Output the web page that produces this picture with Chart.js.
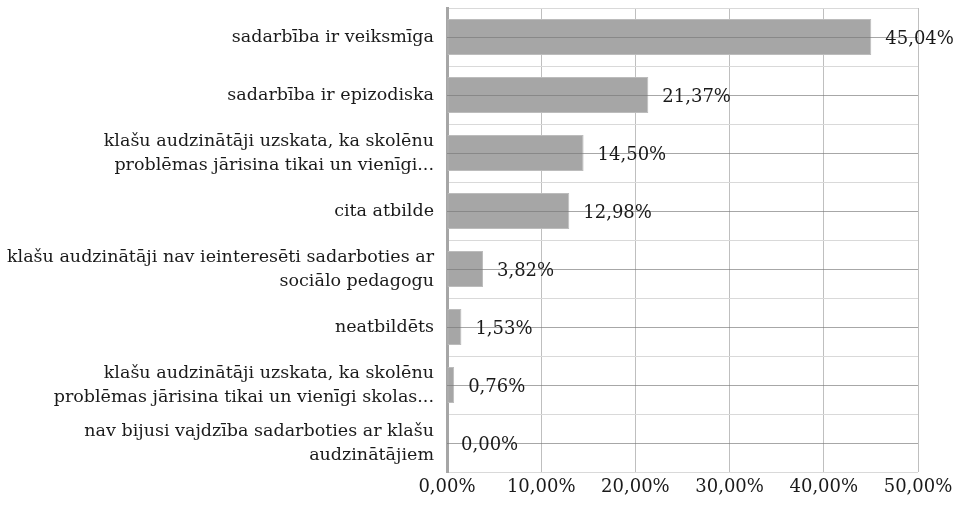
<!DOCTYPE html>
<html>
<head>
<meta charset="utf-8">
<script src="https://cdn.jsdelivr.net/npm/chart.js@4/dist/chart.umd.min.js"></script>
<style>
  html, body { margin: 0; padding: 0; background: #fff; }
  #wrap { width: 962px; height: 505px; position: relative; }
</style>
</head>
<body>
<div id="wrap"><canvas id="chart"></canvas></div>
<script>
// answer categories (wrapped as in the original)
const categories = [
  "sadarbība ir veiksmīga",
  "sadarbība ir epizodiska",
  ["klašu audzinātāji uzskata, ka skolēnu", "problēmas jārisina tikai un vienīgi..."],
  "cita atbilde",
  ["klašu audzinātāji nav ieinteresēti sadarboties ar", "sociālo pedagogu"],
  "neatbildēts",
  ["klašu audzinātāji uzskata, ka skolēnu", "problēmas jārisina tikai un vienīgi skolas..."],
  ["nav bijusi vajdzība sadarboties ar klašu", "audzinātājiem"],
];
const shares = [45.04, 21.37, 14.50, 12.98, 3.82, 1.53, 0.76, 0.00];
const xTicks = [0, 10, 20, 30, 40, 50];

const FONT = "'DejaVu Serif', serif";
const pct = (v) => v.toFixed(2).replace(".", ",") + "%";

// darker lines through the middle of every category row
const centerLines = {
  id: "centerLines",
  afterDatasetsDraw(chart) {
    const { ctx, chartArea, scales } = chart;
    ctx.save();
    ctx.strokeStyle = "rgba(120,120,120,0.65)";
    ctx.lineWidth = 1;
    categories.forEach((c, i) => {
      const y = Math.round(scales.y.getPixelForValue(i)) + 0.5;
      ctx.beginPath();
      ctx.moveTo(chartArea.left, y);
      ctx.lineTo(chartArea.right, y);
      ctx.stroke();
    });
    ctx.restore();
  },
};

// value labels to the right of each bar
const valueLabels = {
  id: "valueLabels",
  afterDatasetsDraw(chart) {
    const { ctx } = chart;
    const meta = chart.getDatasetMeta(0);
    ctx.save();
    ctx.font = "18px " + FONT;
    ctx.fillStyle = "#1a1a1a";
    ctx.textAlign = "left";
    ctx.textBaseline = "middle";
    meta.data.forEach((bar, i) => {
      ctx.fillText(pct(shares[i]), bar.x + 14, bar.y + 2);
    });
    ctx.restore();
  },
};

new Chart(document.getElementById("chart"), {
  type: "bar",
  data: {
    labels: categories,
    datasets: [
      {
        data: shares,
        backgroundColor: "#a6a6a6",
        borderColor: "#bcbcbc",
        borderWidth: 1,
        borderSkipped: false,
        barPercentage: 0.62,
        categoryPercentage: 1,
      },
    ],
  },
  options: {
    indexAxis: "y",
    responsive: true,
    maintainAspectRatio: false,
    animation: false,
    layout: { padding: { top: 8, right: 44, left: 0, bottom: 0 } },
    plugins: {
      legend: { display: false },
      tooltip: { enabled: false },
    },
    scales: {
      x: {
        min: 0,
        max: 50,
        afterBuildTicks: (axis) => {
          axis.ticks = xTicks.map((v) => ({ value: v }));
        },
        afterFit: (axis) => {
          axis.height = 33;
          axis.paddingLeft = 0;
          axis.paddingRight = 0;
        },
        grid: { color: "#bfbfbf", drawTicks: false },
        border: { display: false },
        ticks: {
          padding: 5,
          color: "#1a1a1a",
          font: { family: FONT, size: 18 },
          callback: (v) => pct(v),
          maxRotation: 0,
        },
      },
      y: {
        afterFit: (axis) => {
          axis.width = 447;
          axis.paddingTop = 0;
          axis.paddingBottom = 0;
        },
        grid: { color: "#d9d9d9", drawTicks: false, offset: true },
        border: { display: true, color: "#a6a6a6", width: 3 },
        ticks: {
          padding: 13,
          color: "#1a1a1a",
          font: { family: FONT, size: 17.5, lineHeight: 1.37 },
        },
      },
    },
  },
  plugins: [centerLines, valueLabels],
});
</script>
</body>
</html>
